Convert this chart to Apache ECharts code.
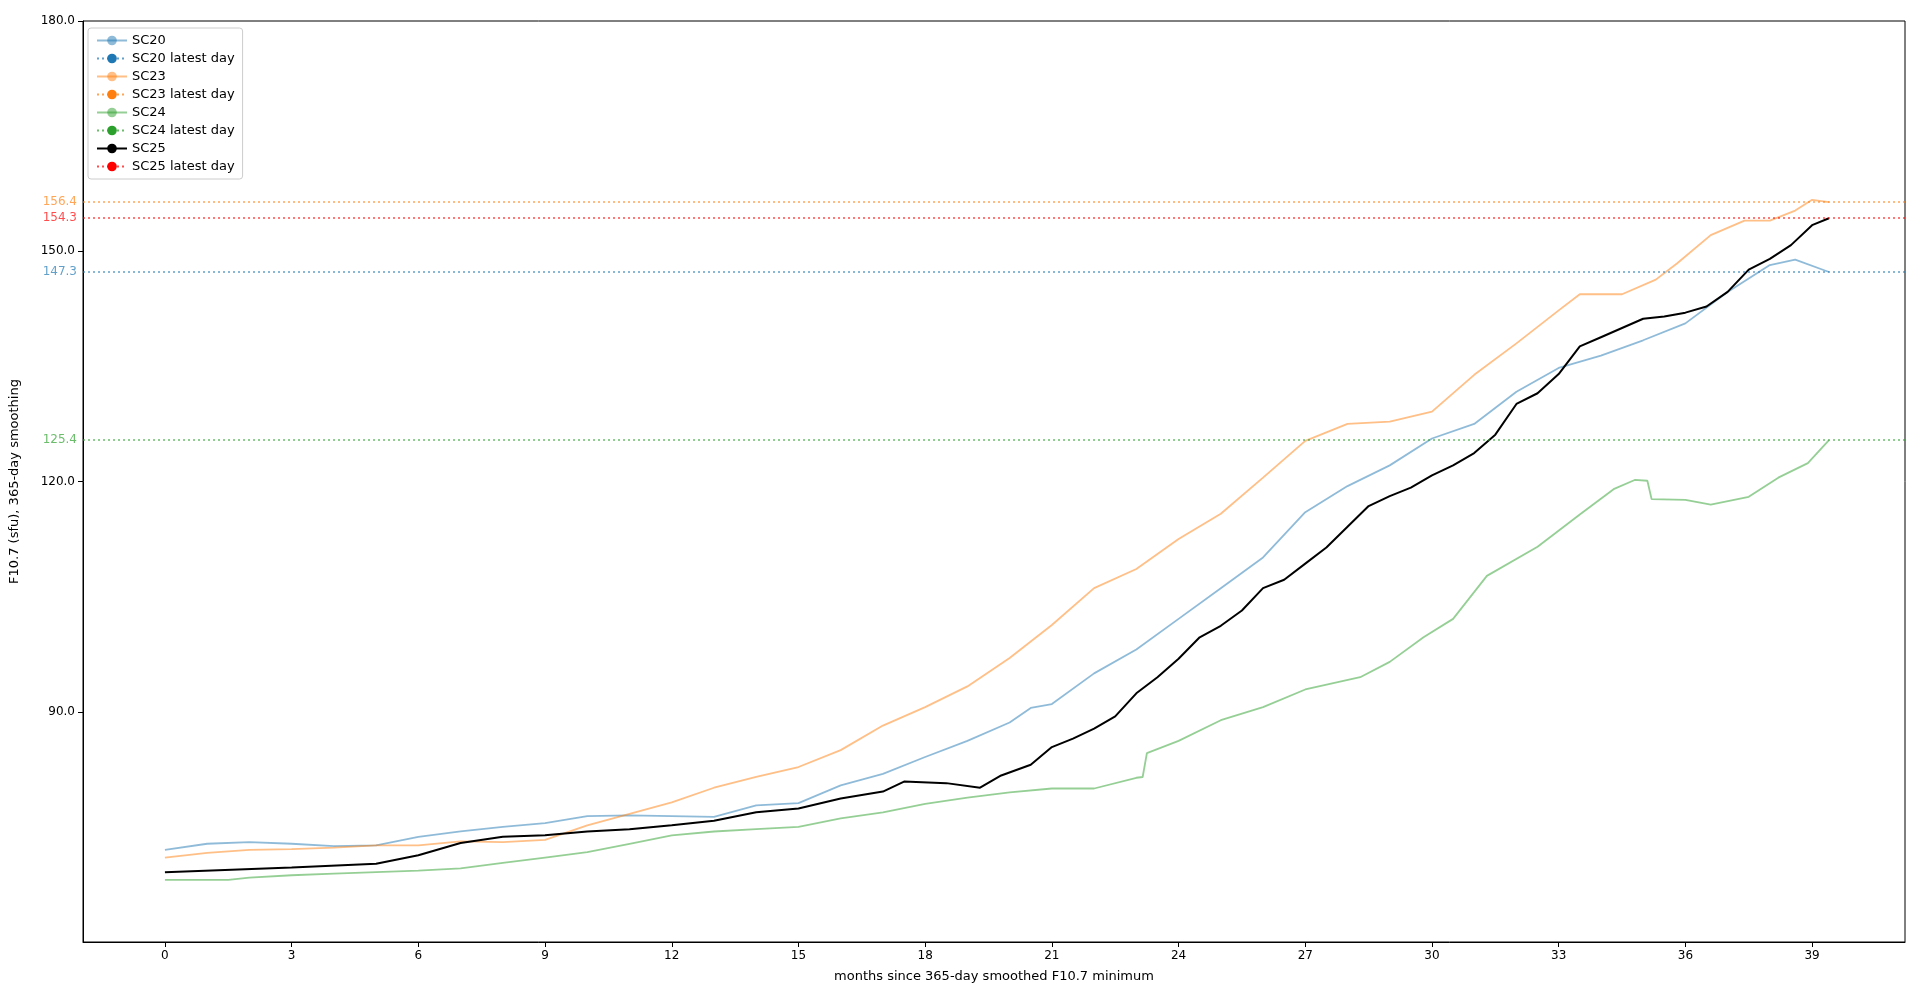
<!DOCTYPE html>
<html>
<head>
<meta charset="utf-8">
<script src="https://cdn.jsdelivr.net/npm/echarts@6/dist/echarts.min.js"></script>
<style>html,body{margin:0;background:#fff}#chart{width:1920px;height:1000px}</style>
</head>
<body>
<div id="chart"></div>
<script>
// months since minimum / smoothed F10.7 (sfu)
const sc20Months = [0, 1, 2, 3, 4, 5, 6, 7, 8, 9, 10, 11, 12, 13, 14, 15, 16, 17, 18, 19, 20, 20.5, 21, 22, 23, 24, 25, 26, 27, 28, 29, 30, 31, 32, 33, 34, 35, 36, 37, 38, 38.6, 39.4]
const sc20Values = [72.0, 72.8, 73.0, 72.8, 72.5, 72.6, 73.7, 74.4, 75.0, 75.5, 76.4, 76.5, 76.4, 76.3, 77.8, 78.1, 80.4, 81.9, 84.1, 86.2, 88.6, 90.5, 91.0, 95.0, 98.1, 102.1, 106.1, 110.1, 116.0, 119.4, 122.1, 125.6, 127.5, 131.7, 134.8, 136.4, 138.4, 140.6, 144.7, 148.2, 148.9, 147.3]

const sc23Months = [0, 1, 2, 3, 4, 5, 6, 7, 8, 9, 10, 11, 12, 13, 14, 15, 16, 17, 18, 19, 20, 21, 22, 23, 24, 25, 26, 27, 28, 29, 30, 31, 32, 33, 33.5, 34.5, 35.3, 35.8, 36.6, 37.4, 38, 38.6, 39, 39.4]
const sc23Values = [71.0, 71.6, 72.0, 72.1, 72.3, 72.6, 72.6, 73.1, 73.0, 73.3, 75.2, 76.7, 78.2, 80.1, 81.5, 82.8, 85.0, 88.2, 90.6, 93.3, 97.0, 101.3, 106.1, 108.6, 112.5, 115.8, 120.5, 125.3, 127.5, 127.8, 129.1, 133.9, 138.0, 142.3, 144.4, 144.4, 146.3, 148.4, 152.1, 154.0, 154.0, 155.3, 156.7, 156.4]

const sc24Months = [0, 1.5, 2, 3, 4, 5, 6, 7, 8, 9, 10, 11, 12, 13, 14, 15, 16, 17, 18, 19, 20, 21, 22, 23, 23.15, 23.25, 24, 25, 26, 27, 28.3, 29, 29.8, 30.5, 31.3, 32.5, 33.5, 34.3, 34.8, 35.1, 35.2, 36, 36.6, 37.5, 38.2, 38.9, 39.4]
const sc24Values = [68.1, 68.1, 68.4, 68.7, 68.9, 69.1, 69.3, 69.6, 70.3, 71.0, 71.7, 72.8, 73.9, 74.4, 74.7, 75.0, 76.1, 76.9, 78.0, 78.8, 79.5, 80.0, 80.0, 81.4, 81.5, 84.6, 86.2, 88.9, 90.6, 92.9, 94.5, 96.5, 99.7, 102.1, 107.7, 111.5, 115.7, 119.0, 120.2, 120.1, 117.7, 117.6, 117.0, 118.0, 120.5, 122.4, 125.4]

const sc25Months = [0, 3, 5, 6, 7, 8, 9, 10, 11, 12, 13, 14, 15, 16, 17, 17.5, 18.5, 19.3, 19.8, 20.5, 21, 21.5, 22, 22.5, 23, 23.5, 24, 24.5, 25, 25.5, 26, 26.5, 27, 27.5, 28, 28.5, 29, 29.5, 30, 30.5, 31, 31.5, 32, 32.5, 33, 33.5, 34, 34.5, 35, 35.5, 36, 36.5, 37, 37.5, 38, 38.5, 39, 39.4]
const sc25Values = [69.1, 69.7, 70.2, 71.3, 72.9, 73.7, 73.9, 74.4, 74.7, 75.2, 75.8, 76.9, 77.4, 78.7, 79.6, 80.9, 80.7, 80.1, 81.7, 83.1, 85.4, 86.5, 87.8, 89.4, 92.4, 94.5, 96.9, 99.7, 101.2, 103.2, 106.1, 107.2, 109.3, 111.4, 114.1, 116.8, 118.1, 119.2, 120.8, 122.1, 123.7, 126.1, 130.1, 131.5, 134.0, 137.6, 138.8, 140.0, 141.2, 141.5, 142.0, 142.8, 144.7, 147.6, 149.0, 150.8, 153.4, 154.3]

const cycleNames = ['SC20', 'SC23', 'SC24', 'SC25']
const latestValues = [147.3, 156.4, 125.4, 154.3]
const lineColors = ['rgba(31,119,180,0.5)', 'rgba(255,127,14,0.5)', 'rgba(44,160,44,0.5)', '#000000']
const latestColors = ['#1f77b4', '#ff7f0e', '#2ca02c', '#ff0000']
const xTicks = [0, 3, 6, 9, 12, 15, 18, 21, 24, 27, 30, 33, 36, 39]
const yTicks = [90, 120, 150, 180]

const monthsList = [sc20Months, sc23Months, sc24Months, sc25Months]
const valuesList = [sc20Values, sc23Values, sc24Values, sc25Values]

const font = 'DejaVu Sans'
const series = []
cycleNames.forEach((name, i) => {
  series.push({
    name: name,
    type: 'line',
    showSymbol: false,
    symbol: 'none',
    lineStyle: { color: lineColors[i], width: i === 3 ? 2 : 1.8 },
    itemStyle: { color: lineColors[i] },
    data: monthsList[i].map((m, k) => [m, valuesList[i][k]]),
    z: 3,
  })
  series.push({
    name: name + ' latest day',
    type: 'line',
    data: [[-10, latestValues[i]]],
    symbol: 'none',
    showSymbol: false,
    lineStyle: { color: latestColors[i], type: [2, 3], width: 1.5, opacity: 0.7 },
    itemStyle: { color: latestColors[i] },
    markLine: {
      silent: true,
      symbol: 'none',
      lineStyle: { color: latestColors[i], type: [2, 3], width: 1.5, opacity: 0.7 },
      label: {
        position: 'start',
        color: latestColors[i],
        fontFamily: font,
        fontSize: 12,
        distance: 6,
        formatter: latestValues[i].toFixed(1),
      },
      data: [{ yAxis: latestValues[i] }],
    },
  })
})

const myChart = echarts.init(document.getElementById('chart'))
myChart.setOption({
  animation: false,
  textStyle: { fontFamily: font },
  grid: { left: 82, right: 15, top: 21, bottom: 58, show: true, borderColor: '#000', borderWidth: 1 },
  legend: {
    orient: 'vertical',
    left: 88,
    top: 28,
    padding: [6, 8],
    itemGap: 5,
    itemWidth: 30,
    itemHeight: 12,
    borderColor: '#ccc',
    borderWidth: 1,
    borderRadius: 3,
    backgroundColor: 'rgba(255,255,255,0.8)',
    textStyle: { fontSize: 13, color: '#000' },
    data: series.map(s => s.name),
  },
  xAxis: {
    type: 'value',
    min: -1.94,
    max: 41.2,
    name: 'months since 365-day smoothed F10.7 minimum',
    nameLocation: 'middle',
    nameGap: 28,
    nameTextStyle: { fontSize: 13, color: '#000' },
    splitLine: { show: false },
    axisLine: { onZero: false, lineStyle: { color: '#000' } },
    axisTick: { customValues: xTicks, length: 5, lineStyle: { color: '#000' } },
    axisLabel: { customValues: xTicks, fontSize: 12, color: '#000' },
  },
  yAxis: {
    type: 'value',
    min: 60,
    max: 180,
    name: 'F10.7 (sfu), 365-day smoothing',
    nameLocation: 'middle',
    nameGap: 62,
    nameTextStyle: { fontSize: 13, color: '#000' },
    splitLine: { show: false },
    axisLine: { show: true, onZero: false, lineStyle: { color: '#000' } },
    axisTick: { customValues: yTicks, length: 5, lineStyle: { color: '#000' } },
    axisLabel: { customValues: yTicks, fontSize: 12, color: '#000', formatter: v => v.toFixed(1) },
  },
  series: series,
})
</script>
</body>
</html>
